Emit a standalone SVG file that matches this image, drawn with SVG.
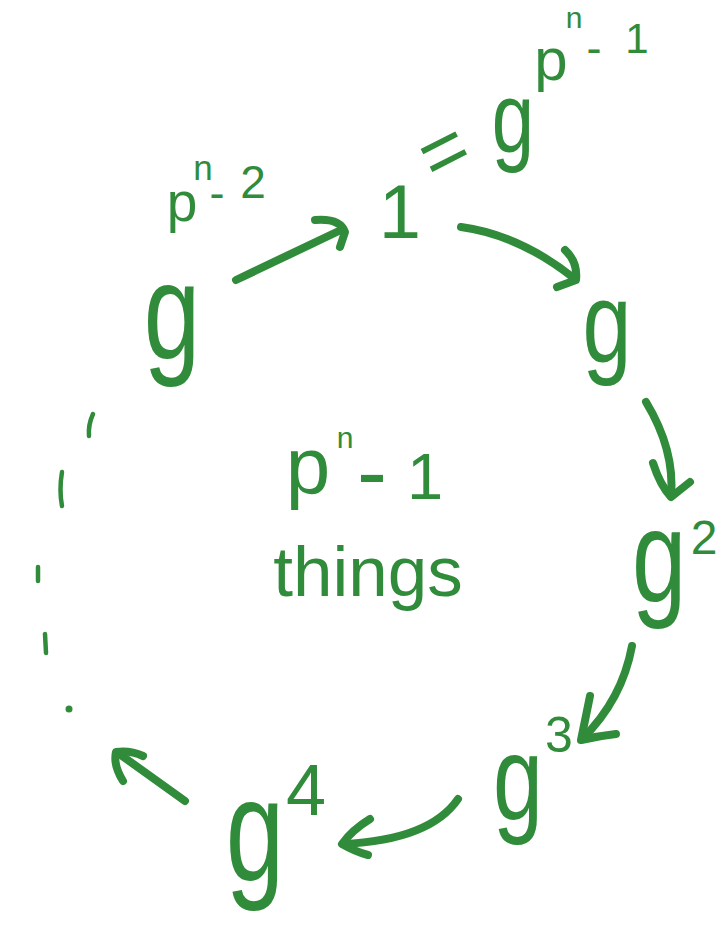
<svg xmlns="http://www.w3.org/2000/svg" width="722" height="941" viewBox="0 0 722 941">
<style>
  text { font-family: "Liberation Sans", "DejaVu Sans", sans-serif; fill: #308c3a; text-anchor: middle; }
  .arr { fill: none; stroke: #308c3a; stroke-width: 8; stroke-linecap: round; stroke-linejoin: round; }
  .dash { fill: none; stroke: #308c3a; stroke-width: 4.5; stroke-linecap: round; }
</style>
<rect width="722" height="941" fill="#ffffff"/>

<g id="connectors">
  <path class="arr" d="M236,280 L343,229"/>
  <path class="arr" d="M315,220 Q340,218 345,232 L340,247"/>
  <path class="arr" d="M461,227 Q520,235 575,279"/>
  <path class="arr" d="M565,250 Q578,262 576,280 L557,287"/>
  <path class="arr" d="M646,402 Q675,450 671,496"/>
  <path class="arr" d="M653,463 Q660,485 671,497 Q680,490 690,482"/>
  <path class="arr" d="M632,646 Q622,700 582,739"/>
  <path class="arr" d="M590,696 Q585,720 581,740 Q598,736 616,734"/>
  <path class="arr" d="M458,799 Q430,840 343,844"/>
  <path class="arr" d="M370,819 Q352,830 342,844 Q356,852 368,855"/>
  <path class="arr" d="M185,801 L118,753"/>
  <path class="arr" d="M123,781 Q113,765 116,752 Q130,750 143,756"/>
  <g id="dashed-arc">
    <path class="dash" d="M93,414 Q88,425 89,436"/>
    <path class="dash" d="M62,472 Q59,490 62,506"/>
    <path class="dash" d="M38,567 L38,581"/>
    <path class="dash" d="M45,634 L46,653"/>
    <circle cx="69" cy="709" r="3.5" fill="#308c3a"/>
  </g>
</g>

<g id="node-g-pn-2">
  <text transform="translate(172,358) scale(0.78,1.05)" font-size="130">g</text>
  <text x="182" y="221" font-size="55">p</text>
  <text x="203" y="180" font-size="35">n</text>
  <text x="217" y="208" font-size="45">-</text>
  <text x="253" y="198" font-size="46">2</text>
</g>

<g id="node-1">
  <text x="400" y="238" font-size="76">1</text>
  <text x="444" y="178" font-size="80" transform="rotate(-27 444 152)">=</text>
  <text transform="translate(513,152) scale(0.8,1.05)" font-size="95">g</text>
  <text x="551" y="80" font-size="60">p</text>
  <text x="574" y="28" font-size="30">n</text>
  <text x="594" y="63" font-size="45">-</text>
  <text x="637" y="53" font-size="42">1</text>
</g>

<g id="node-g">
  <text transform="translate(607,362) scale(0.8,1.05)" font-size="110">g</text>
</g>

<g id="node-g2">
  <text transform="translate(659,602) scale(0.78,1.05)" font-size="125">g</text>
  <text x="704" y="554" font-size="48">2</text>
</g>

<g id="node-g3">
  <text transform="translate(518,820) scale(0.78,1.05)" font-size="115">g</text>
  <text x="559" y="752" font-size="50">3</text>
</g>

<g id="node-g4">
  <text transform="translate(255,881) scale(0.75,1.05)" font-size="140">g</text>
  <text x="306" y="815" font-size="72">4</text>
</g>

<g id="center-label">
  <text x="308" y="493" font-size="80">p</text>
  <text x="345" y="448" font-size="30">n</text>
  <text x="372" y="503" font-size="90">-</text>
  <text x="425" y="499" font-size="65">1</text>
  <text x="368" y="596" font-size="71">things</text>
</g>
</svg>
